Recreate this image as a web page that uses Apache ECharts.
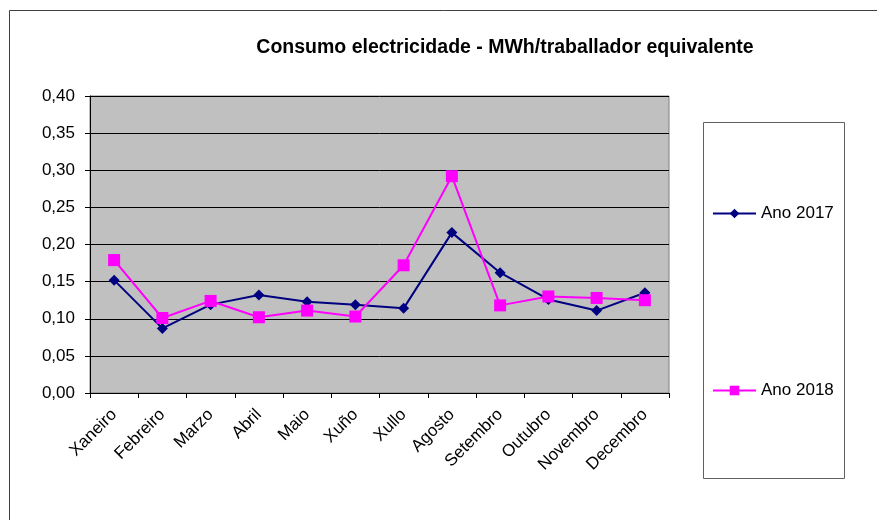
<!DOCTYPE html>
<html>
<head>
<meta charset="utf-8">
<script src="https://cdn.jsdelivr.net/npm/echarts@6/dist/echarts.min.js"></script>
<style>
  html, body { margin: 0; padding: 0; background: #fff; }
  #chart { width: 877px; height: 520px; }
</style>
</head>
<body>
<div id="chart"></div>
<script>
var meses = ['Xaneiro', 'Febreiro', 'Marzo', 'Abril', 'Maio', 'Xuño', 'Xullo', 'Agosto', 'Setembro', 'Outubro', 'Novembro', 'Decembro'];
var ano2017 = [0.152, 0.087, 0.119, 0.132, 0.123, 0.119, 0.114, 0.216, 0.162, 0.126, 0.111, 0.135];
var ano2018 = [0.179, 0.101, 0.124, 0.102, 0.111, 0.103, 0.172, 0.292, 0.118, 0.130, 0.128, 0.125];

var chart = echarts.init(document.getElementById('chart'));
chart.setOption({
    animation: false,
    textStyle: { fontFamily: 'Liberation Sans, Arial, sans-serif' },
    title: {
        text: 'Consumo electricidade - MWh/traballador equivalente',
        left: 500,
        top: 33,
        textAlign: 'center',
        textStyle: { fontSize: 19.5, fontWeight: 'bold', color: '#000' }
    },
    graphic: [
        {
            type: 'rect',
            shape: { x: 9.5, y: 10.5, width: 900, height: 600 },
            style: { fill: 'none', stroke: '#404040', lineWidth: 1 },
            silent: true
        },
        {
            type: 'rect',
            shape: { x: 703.5, y: 122.5, width: 141, height: 356 },
            style: { fill: '#fff', stroke: '#606060', lineWidth: 1 },
            silent: true,
            z: 0
        }
    ],
    legend: {
        orient: 'vertical',
        left: 707,
        top: 200,
        itemWidth: 43,
        itemHeight: 12,
        itemGap: 160,
        textStyle: { fontSize: 17, lineHeight: 17, color: '#000' },
        data: ['Ano 2017', 'Ano 2018']
    },
    grid: {
        left: 90,
        right: 208,
        top: 96,
        bottom: 127,
        show: true,
        backgroundColor: '#c0c0c0',
        borderColor: '#808080',
        borderWidth: 1
    },
    xAxis: {
        type: 'category',
        data: meses,
        boundaryGap: true,
        axisLine: { lineStyle: { color: '#000', width: 1 } },
        axisTick: { show: true, length: 5, lineStyle: { color: '#000' } },
        axisLabel: {
            rotate: 45,
            fontSize: 17,
            color: '#000',
            margin: 19,
            interval: 0
        }
    },
    yAxis: {
        type: 'value',
        min: 0,
        max: 0.4,
        interval: 0.05,
        axisLine: { show: true, lineStyle: { color: '#000', width: 1 } },
        axisTick: { show: true, length: 5, lineStyle: { color: '#000' } },
        splitLine: { lineStyle: { color: '#000', width: 1 } },
        axisLabel: {
            fontSize: 17,
            color: '#000',
            margin: 15,
            formatter: function (v) { return v.toFixed(2).replace('.', ','); }
        }
    },
    series: [
        {
            name: 'Ano 2017',
            type: 'line',
            data: ano2017,
            color: '#000080',
            symbol: 'diamond',
            symbolSize: 11,
            showAllSymbol: true,
            lineStyle: { color: '#000080', width: 2 },
            itemStyle: { color: '#000080' }
        },
        {
            name: 'Ano 2018',
            type: 'line',
            data: ano2018,
            color: '#ff00ff',
            symbol: 'rect',
            symbolSize: 12,
            showAllSymbol: true,
            lineStyle: { color: '#ff00ff', width: 2 },
            itemStyle: { color: '#ff00ff' }
        }
    ]
});
</script>
</body>
</html>
